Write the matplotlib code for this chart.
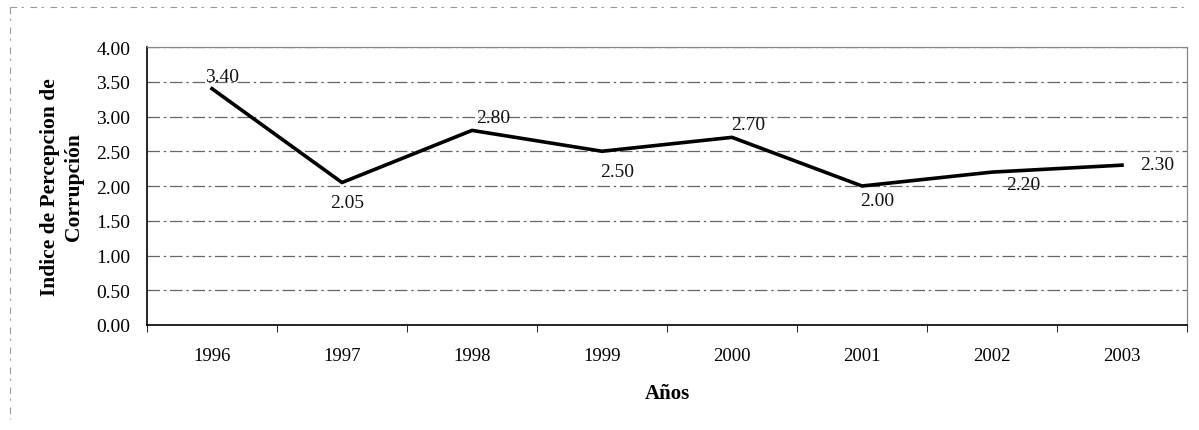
import matplotlib
matplotlib.use("Agg")
import matplotlib.pyplot as plt
from matplotlib.lines import Line2D

years = ["1996", "1997", "1998", "1999", "2000", "2001", "2002", "2003"]
values = [3.40, 2.05, 2.80, 2.50, 2.70, 2.00, 2.20, 2.30]
yticks = [0.0, 0.5, 1.0, 1.5, 2.0, 2.5, 3.0, 3.5, 4.0]

plt.rcParams['font.family'] = ['Liberation Serif', 'DejaVu Serif']

fig = plt.figure(figsize=(11.99, 4.31), dpi=100)
ax = fig.add_axes([147/1199, 1 - 326/431, (1187-147)/1199, (326-48)/431])

x = list(range(len(years)))
ax.plot(x, values, color='black', lw=2.6, zorder=3)

# data labels (offsets in pixels)
offsets = [(10, 12), (5, -20), (21, 13), (15, -20), (16, 13), (15, -14), (31, -12), (35, 1)]
for xi, v, (dx, dy) in zip(x, values, offsets):
    ax.annotate(f"{v:.2f}", (xi, v), xytext=(dx, dy), textcoords='offset pixels',
                ha='center', va='center', fontsize=14, color='#111111')

ax.set_xlim(-0.5, len(years) - 0.5)
ax.set_ylim(0, 4.0)
ax.set_yticks(yticks)
ax.set_yticklabels([f"{t:.2f}" for t in yticks], fontsize=14)
ax.set_xticks(x)
ax.set_xticklabels(years, fontsize=13.5)
ax.set_xticks([i + 0.5 for i in range(-1, len(years))], minor=True)
ax.tick_params(axis='x', which='major', length=0, pad=16)
ax.tick_params(axis='x', which='minor', length=5, direction='out')
ax.tick_params(axis='y', length=0, pad=12)

ax.grid(axis='y', color='#666666', lw=0.9, linestyle=(0, (10, 3, 2, 3)), zorder=0)
for s in ['top', 'right']:
    ax.spines[s].set_color('#888888')
    ax.spines[s].set_linestyle((0, (2, 1)))
    ax.spines[s].set_linewidth(0.9)
ax.spines['left'].set_color('black')
ax.spines['bottom'].set_color('black')
ax.spines['left'].set_linewidth(1.2)
ax.spines['bottom'].set_linewidth(1.2)

ax.set_ylabel("Indice de Percepcion de\nCorrupción", fontsize=15.5, fontweight='bold',
              linespacing=1.25)
ax.yaxis.set_label_coords((84 - 147) / 1040, 0.50)
ax.set_xlabel("Años", fontsize=15, fontweight='bold')
ax.xaxis.set_label_coords(0.5, (326 - 384) / 278)

# faint scanned chart-area border (top and left)
fig.add_artist(Line2D([10/1199, 1190/1199], [1 - 8/431, 1 - 8/431], transform=fig.transFigure,
                      color='#999999', lw=0.8, linestyle=(0, (6, 4, 2, 6))))
fig.add_artist(Line2D([10/1199, 10/1199], [1 - 8/431, 1 - 420/431], transform=fig.transFigure,
                      color='#999999', lw=0.8, linestyle=(0, (6, 4, 2, 6))))

fig.savefig("out.png", dpi=100, facecolor='white')
